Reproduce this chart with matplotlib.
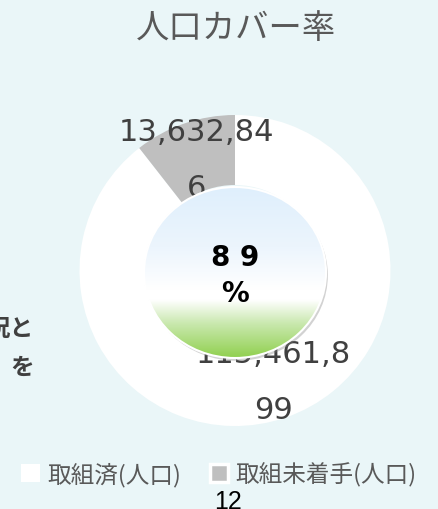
import matplotlib
matplotlib.use('Agg')
import matplotlib.pyplot as plt
import numpy as np
from matplotlib.patches import Ellipse, Patch

# ---- data ----
categories = ['取組済(人口)', '取組未着手(人口)']
values = [115461899, 13632846]
label_lines = ['115,461,8\n99', '13,632,84\n6']
center_label = '8 9\n%'
title = '人口カバー率'
side_text = ['況と', 'を']
footer = '12'
colors = ['#FFFFFF', '#BFBFBF']

CJK = ['Noto Sans CJK JP', 'DejaVu Sans']
W, H = 438, 510
fig = plt.figure(figsize=(W / 100, H / 100), dpi=100)
bg = '#EAF6F8'
fig.patch.set_facecolor(bg)

cx, cy, R = 235, 271.5, 155.5
ax = fig.add_axes([(cx - R) / W, (H - cy - R) / H, 2 * R / W, 2 * R / H])
ax.set_facecolor('none')

wedges, _ = ax.pie(values, colors=colors, startangle=90, counterclock=False,
                   radius=1.0, wedgeprops=dict(width=0.45, linewidth=0))

# data labels at wedge mid-angles
for w, txt in zip(wedges, label_lines):
    th = np.deg2rad((w.theta1 + w.theta2) / 2)
    ax.text(0.755 * np.cos(th), 0.755 * np.sin(th), txt, ha='center', va='center',
            fontsize=22, color='#404040', family='DejaVu Sans', linespacing=2.15,
            zorder=2)

# center ellipse with gradient
ecx, ecy = 0.0, -(273.5 - cy) / R
ew, eh = 182 / R, 171 / R
shadow = Ellipse((ecx + 0.012, ecy - 0.018), ew, eh, facecolor='#7f7f7f', alpha=0.35,
                 edgecolor='none', zorder=3)
ax.add_patch(shadow)
ell = Ellipse((ecx, ecy), ew, eh, facecolor='none', edgecolor='white', linewidth=1.5, zorder=5)
ax.add_patch(ell)
stops_t = [0.0, 0.35, 0.6, 0.66, 0.8, 1.0]
stops_c = np.array([[0xDF, 0xEF, 0xFC], [0xEC, 0xF5, 0xFD], [0xFF, 0xFF, 0xFF],
                    [0xFF, 0xFF, 0xFF], [0xC9, 0xE8, 0xAE], [0x90, 0xD0, 0x4E]]) / 255
t = np.linspace(0, 1, 300)
grad = np.stack([np.interp(t, stops_t, stops_c[:, k]) for k in range(3)], axis=-1)[:, None, :]
im = ax.imshow(grad, extent=[ecx - ew / 2, ecx + ew / 2, ecy - eh / 2, ecy + eh / 2],
               origin='upper', aspect='auto', zorder=4, interpolation='bilinear')
clip = Ellipse((ecx, ecy), ew, eh, transform=ax.transData)
im.set_clip_path(clip)

ax.text(0, (cy - 276) / R, center_label, ha='center', va='center', fontsize=20,
        fontweight='bold', color='black', family='DejaVu Sans', linespacing=1.4, zorder=6)

ax.set_xlim(-1, 1)
ax.set_ylim(-1, 1)
ax.set_aspect('equal')
ax.axis('off')

# title
fig.text(236 / W, 1 - 28.5 / H, title, ha='center', va='center', fontsize=24,
         color='#595959', family=CJK)

# side (clipped) text
fig.text(34 / W, 1 - 330 / H, side_text[0], ha='right', va='center', fontsize=17,
         fontweight='bold', color='#404040', family=CJK)
fig.text(34 / W, 1 - 368 / H, side_text[1], ha='right', va='center', fontsize=17,
         fontweight='bold', color='#404040', family=CJK)

# legend
handles = [Patch(facecolor=colors[0], edgecolor='none'),
           Patch(facecolor=colors[1], edgecolor='white', linewidth=2.5)]
fig.legend(handles=handles, labels=categories, ncol=2, loc='center',
           bbox_to_anchor=(219 / W, 1 - 475 / H), frameon=False,
           prop=dict(family=CJK, size=17), labelcolor='#595959',
           handlelength=0.8, handleheight=0.8, handletextpad=0.3, columnspacing=1.2)

fig.text(228 / W, 1 - 502 / H, footer, ha='center', va='center', fontsize=18,
         color='black', family='Liberation Sans')

fig.savefig('out.png', dpi=100, facecolor=bg)
